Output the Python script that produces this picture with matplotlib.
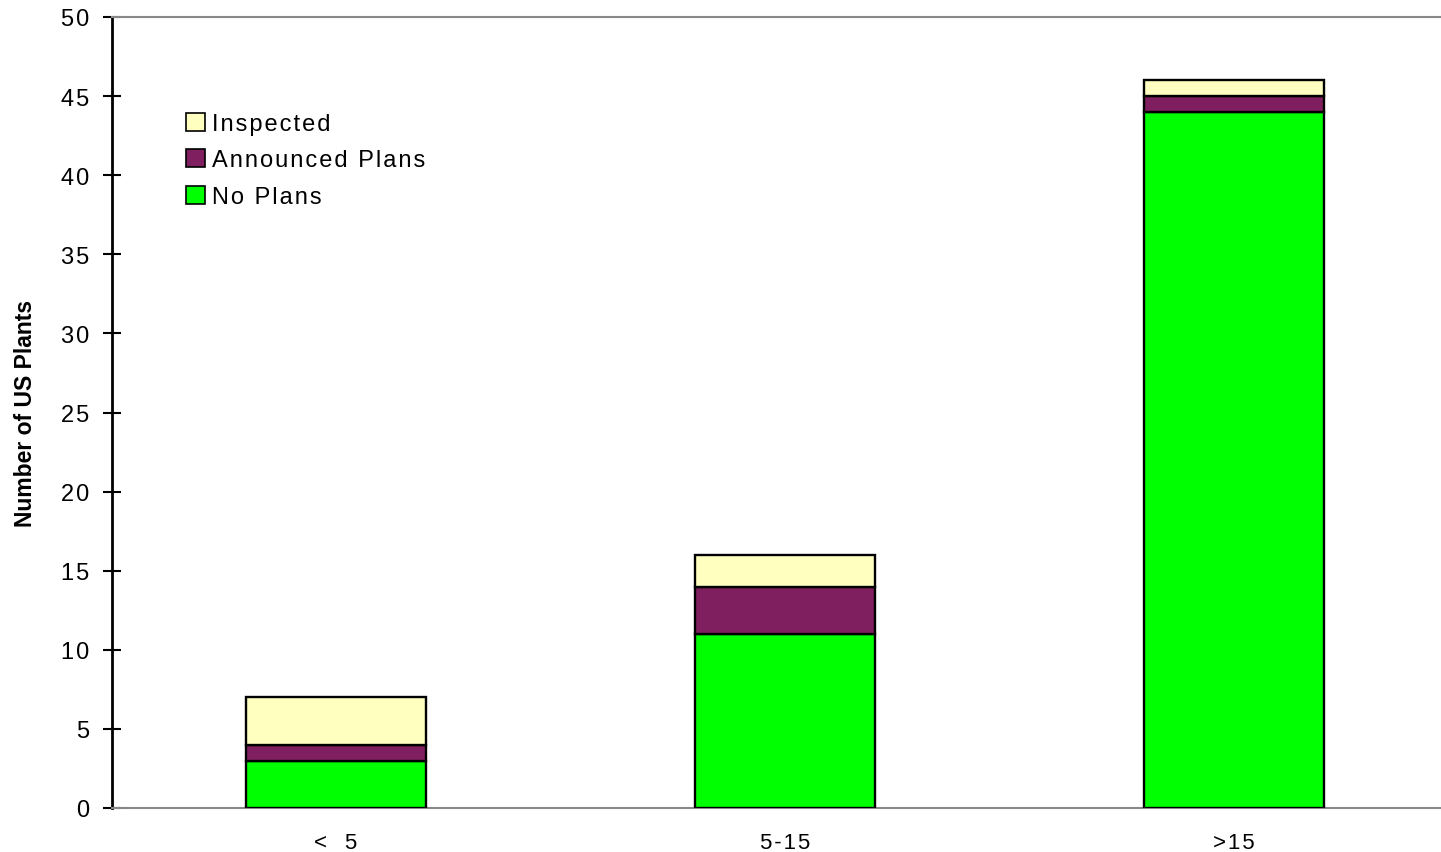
import numpy as np
import matplotlib.pyplot as plt

plt.rcParams['font.family'] = ['Liberation Sans', 'DejaVu Sans']

# data
categories = ["<  5", "5-15", ">15"]
no_plans = [3, 11, 44]
announced = [1, 3, 1]
inspected = [3, 2, 1]
series_names = ['No Plans', 'Announced Plans', 'Inspected']
yticks = list(range(0, 51, 5))

c_no = '#00ff00'
c_ann = '#7f1f5f'
c_ins = '#ffffc0'

HS = '\u200a'  # hair space, mimics the wide letter spacing


def spaced(s):
    return HS.join(s)


fig = plt.figure(figsize=(14.41, 8.53), dpi=100)
ax = fig.add_axes([112/1441, 44/853, 1 - 112/1441, (809-18)/853])

x = np.arange(len(categories))
w = 0.40
no_plans = np.array(no_plans)
announced = np.array(announced)
inspected = np.array(inspected)

b1 = ax.bar(x, no_plans, w, color=c_no, edgecolor='black', linewidth=1.7,
            label=series_names[0], zorder=3)
b2 = ax.bar(x, announced, w, bottom=no_plans, color=c_ann, edgecolor='black', linewidth=1.7,
            label=series_names[1], zorder=3)
b3 = ax.bar(x, inspected, w, bottom=no_plans + announced, color=c_ins, edgecolor='black',
            linewidth=1.7, label=series_names[2], zorder=3)

ax.set_xlim(-0.499, 2.461)
ax.set_ylim(0, 50)
ax.set_yticks(yticks)
ax.set_yticklabels([spaced(str(v)) for v in yticks])
ax.tick_params(axis='y', direction='inout', length=13, width=1.5, labelsize=17, pad=10)
ax.tick_params(axis='x', length=0, labelsize=16, pad=17)
ax.set_xticks(x)
ax.set_xticklabels([spaced(c) for c in categories])

ax.spines['left'].set_linewidth(2)
ax.spines['left'].set_color('black')
ax.spines['top'].set_color('#888888')
ax.spines['top'].set_linewidth(1.5)
ax.spines['bottom'].set_color('#888888')
ax.spines['bottom'].set_linewidth(1.5)
ax.spines['right'].set_visible(False)

ax.set_ylabel('Number of US Plants', fontsize=16.5, fontweight='bold', labelpad=17)

handles = [b3, b2, b1]
labels = [spaced(s) for s in series_names[::-1]]
leg = ax.legend(handles, labels, loc='upper left', bbox_to_anchor=(0.056, 0.879),
                frameon=False, fontsize=17, handlelength=0.8, handleheight=0.8,
                handletextpad=0.3, labelspacing=0.6, borderpad=0, borderaxespad=0)
for h in leg.legend_handles:
    h.set_linewidth(1.2)

fig.savefig('out.png', dpi=100)
